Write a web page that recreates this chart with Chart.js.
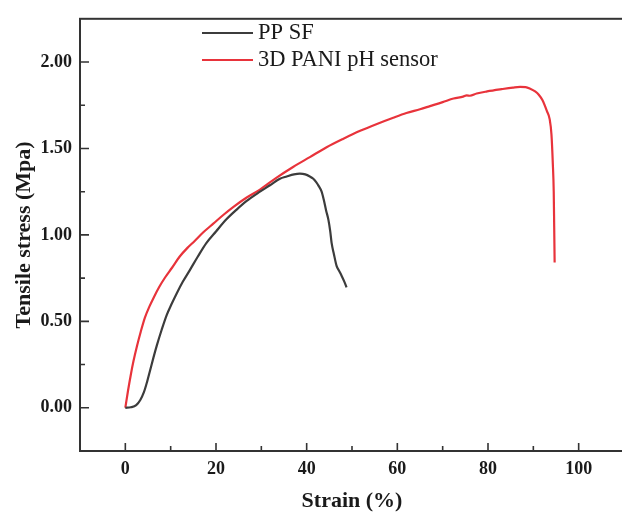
<!DOCTYPE html>
<html><head><meta charset="utf-8">
<script src="https://cdn.jsdelivr.net/npm/chart.js@4"></script>
<style>html,body{margin:0;padding:0;background:#fff;overflow:hidden;width:622px;height:515px;}</style>
</head><body>
<canvas id="c" width="626" height="515" style="display:block;width:626px;height:515px"></canvas>
<script>
// Data
const ppStrain = [0,1.2,2.4,3.3,4.1,4.8,5.5,6.2,7.0,8.0,9.1,10.2,11.3,12.7,14.2,16.0,17.9,20.0,22.3,24.5,26.7,29.7,31.9,34.1,35.6,37.2,38.5,39.7,40.7,41.4,42.1,42.6,43.3,43.8,44.3,44.8,45.2,45.5,46.0,46.6,47.2,47.7,48.3,48.8];
const ppStress = [0,0.003,0.015,0.045,0.09,0.15,0.22,0.29,0.365,0.45,0.535,0.60,0.66,0.73,0.795,0.875,0.954,1.02,1.09,1.145,1.195,1.25,1.287,1.325,1.338,1.35,1.354,1.35,1.338,1.326,1.305,1.285,1.25,1.20,1.14,1.087,1.02,0.954,0.89,0.821,0.79,0.764,0.73,0.697];
const paniStrain = [0,0.6,1.2,1.8,2.6,3.4,4.3,5.3,6.3,7.5,8.8,10.3,12.0,13.7,15.3,17.2,19.4,21.6,24.0,26.7,29.7,33.3,37.0,40.7,44.4,48.0,51.8,55.5,59.1,62.0,65.0,67.2,70.0,72.4,74.5,75.3,76.0,77.5,79.8,83.0,85.5,87.1,88.3,89.3,90.4,91.2,92.0,93.0,93.6,94.0,94.3,94.5,94.6,94.7];
const paniStress = [0,0.1,0.19,0.27,0.36,0.44,0.52,0.585,0.64,0.70,0.755,0.81,0.875,0.925,0.965,1.015,1.065,1.115,1.165,1.215,1.262,1.33,1.393,1.45,1.507,1.555,1.602,1.642,1.678,1.705,1.727,1.745,1.768,1.789,1.80,1.807,1.805,1.818,1.83,1.843,1.852,1.856,1.855,1.846,1.83,1.811,1.78,1.716,1.67,1.58,1.411,1.25,1.05,0.84];
const seriesLabels = ['PP SF','3D PANI pH sensor'];
const xTicks = [0,20,40,60,80,100];
const xMinorTicks = [10,30,50,70,90];
const yTicks = [0,0.5,1.0,1.5,2.0];
const yMinorTicks = [0.25,0.75,1.25,1.75];

const serif = "'Liberation Serif','Times New Roman',serif";
const axisColor = '#333333';

function pts(xs, ys){ return xs.map((x,i)=>({x:x, y:ys[i]})); }

const framePlugin = {
  id:'frame',
  afterDraw(chart){
    const ctx = chart.ctx, a = chart.chartArea;
    const xs = chart.scales.x, ys = chart.scales.y;
    ctx.save();
    ctx.strokeStyle = axisColor; ctx.lineWidth = 2;
    ctx.strokeRect(a.left, a.top, a.right-a.left, a.bottom-a.top);
    ctx.lineWidth = 1.6;
    ctx.beginPath();
    xTicks.forEach(v=>{const p=xs.getPixelForValue(v); ctx.moveTo(p,a.bottom); ctx.lineTo(p,a.bottom-8);});
    xMinorTicks.forEach(v=>{const p=xs.getPixelForValue(v); ctx.moveTo(p,a.bottom); ctx.lineTo(p,a.bottom-5);});
    yTicks.forEach(v=>{const p=ys.getPixelForValue(v); ctx.moveTo(a.left,p); ctx.lineTo(a.left+9,p);});
    yMinorTicks.forEach(v=>{const p=ys.getPixelForValue(v); ctx.moveTo(a.left,p); ctx.lineTo(a.left+5,p);});
    ctx.stroke();
    // legend
    ctx.font = '22.5px ' + serif;
    ctx.textBaseline = 'middle';
    ctx.textAlign = 'left';
    chart.data.datasets.forEach((ds,i)=>{
      const y = 33 + i*27;
      ctx.strokeStyle = ds.borderColor; ctx.lineWidth = 2;
      ctx.beginPath(); ctx.moveTo(202,y); ctx.lineTo(253,y); ctx.stroke();
      ctx.fillStyle = '#1a1a1a';
      ctx.fillText(ds.label, 258, y);
    });
    ctx.restore();
  }
};

new Chart(document.getElementById('c'), {
  type:'scatter',
  data:{ datasets:[
    {label:seriesLabels[0], data:pts(ppStrain,ppStress), showLine:true, borderColor:'#3c3c3c', borderWidth:2.2, pointRadius:0, cubicInterpolationMode:'monotone', fill:false},
    {label:seriesLabels[1], data:pts(paniStrain,paniStress), showLine:true, borderColor:'#e8333b', borderWidth:2.2, pointRadius:0, cubicInterpolationMode:'monotone', fill:false}
  ]},
  options:{
    responsive:false, animation:false,
    devicePixelRatio: 1,
    layout:{padding:{top:14,right:2,left:0,bottom:0}},
    plugins:{legend:{display:false}, tooltip:{enabled:false}},
    scales:{
      x:{type:'linear', min:-10, max:110,
        grid:{display:false, drawTicks:false}, border:{display:false},
        afterBuildTicks(s){ s.ticks = xTicks.map(v=>({value:v})); },
        afterFit(s){ s.height = 64; },
        ticks:{padding:8, color:'#1a1a1a', font:{family:serif, size:18, weight:'bold'}, callback:v=>String(v)},
        title:{display:true, text:'Strain (%)', color:'#1a1a1a', padding:{top:0,bottom:0}, font:{family:serif, size:22, weight:'bold'}}
      },
      y:{type:'linear', min:-0.25, max:2.25,
        grid:{display:false, drawTicks:false}, border:{display:false},
        afterBuildTicks(s){ s.ticks = yTicks.map(v=>({value:v})); },
        afterFit(s){ s.width = 80; },
        ticks:{padding:8, color:'#1a1a1a', font:{family:serif, size:18, weight:'bold'}, callback:v=>Number(v).toFixed(2)},
        title:{display:true, text:'Tensile stress (Mpa)', color:'#1a1a1a', padding:{top:11,bottom:0}, font:{family:serif, size:22, weight:'bold'}}
      }
    }
  },
  plugins:[framePlugin]
});
</script>
</body></html>
